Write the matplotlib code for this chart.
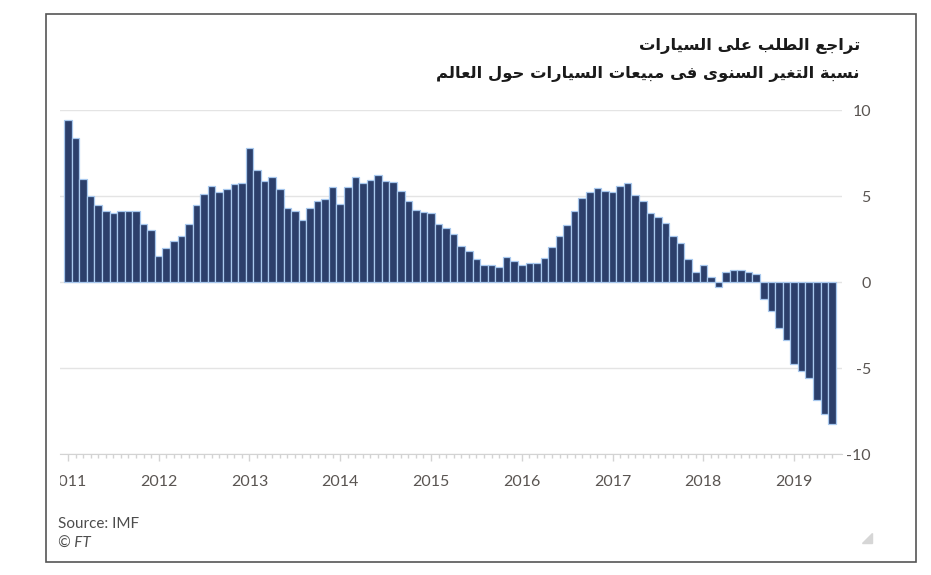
import matplotlib
matplotlib.use("Agg")
import matplotlib.pyplot as plt
from matplotlib.patches import Rectangle, Polygon
from matplotlib.transforms import Bbox

plt.rcParams["font.family"] = ["Lato", "DejaVu Sans"]
plt.rcParams["axes.unicode_minus"] = False

# monthly year-on-year change in global car sales, Jan 2011 - Jun 2019
years = [2011, 2012, 2013, 2014, 2015, 2016, 2017, 2018, 2019]
values = [
    9.4, 8.4, 6.0, 5.0, 4.5, 4.1, 4.0, 4.1, 4.1, 4.1, 3.4, 3.0,      # 2011
    1.5, 1.95, 2.4, 2.7, 3.4, 4.5, 5.1, 5.6, 5.25, 5.4, 5.7, 5.75,   # 2012
    7.8, 6.5, 5.9, 6.1, 5.4, 4.3, 4.15, 3.6, 4.3, 4.7, 4.85, 5.5,   # 2013
    4.55, 5.55, 6.1, 5.75, 5.95, 6.2, 5.9, 5.8, 5.3, 4.7, 4.2, 4.05,  # 2014
    4.0, 3.4, 3.15, 2.8, 2.1, 1.8, 1.35, 1.0, 0.98, 0.85, 1.45, 1.2,  # 2015
    1.0, 1.1, 1.1, 1.4, 2.05, 2.7, 3.3, 4.15, 4.9, 5.25, 5.45, 5.3,  # 2016
    5.25, 5.6, 5.75, 5.05, 4.7, 4.0, 3.8, 3.45, 2.7, 2.25, 1.35, 0.6,  # 2017
    0.97, 0.27, -0.27, 0.6, 0.68, 0.72, 0.6, 0.48, -0.97, -1.7, -2.7, -3.4,  # 2018
    -4.75, -5.15, -5.6, -6.85, -7.65, -8.25,                          # 2019
]
title = "تراجع الطلب على السيارات"
subtitle = "نسبة التغير السنوى فى مبيعات السيارات حول العالم"
source = "Source: IMF"
credit = "© FT"

# --- minimal Arabic shaping (matplotlib does no shaping / bidi) ---
FORMS = {  # isolated, final, initial, medial
    "ا": (0xFE8D, 0xFE8E, None, None),
    "ب": (0xFE8F, 0xFE90, 0xFE91, 0xFE92),
    "ة": (0xFE93, 0xFE94, None, None),
    "ت": (0xFE95, 0xFE96, 0xFE97, 0xFE98),
    "ج": (0xFE9D, 0xFE9E, 0xFE9F, 0xFEA0),
    "ح": (0xFEA1, 0xFEA2, 0xFEA3, 0xFEA4),
    "ر": (0xFEAD, 0xFEAE, None, None),
    "س": (0xFEB1, 0xFEB2, 0xFEB3, 0xFEB4),
    "ط": (0xFEC1, 0xFEC2, 0xFEC3, 0xFEC4),
    "ع": (0xFEC9, 0xFECA, 0xFECB, 0xFECC),
    "غ": (0xFECD, 0xFECE, 0xFECF, 0xFED0),
    "ف": (0xFED1, 0xFED2, 0xFED3, 0xFED4),
    "ل": (0xFEDD, 0xFEDE, 0xFEDF, 0xFEE0),
    "م": (0xFEE1, 0xFEE2, 0xFEE3, 0xFEE4),
    "ن": (0xFEE5, 0xFEE6, 0xFEE7, 0xFEE8),
    "و": (0xFEED, 0xFEEE, None, None),
    "ى": (0xFEEF, 0xFEF0, None, None),
    "ي": (0xFEF1, 0xFEF2, 0xFEF3, 0xFEF4),
}


def shape_ar(text):
    chars = list(text)
    out = []
    i = 0
    while i < len(chars):
        c = chars[i]
        if c not in FORMS:
            out.append(c)
            i += 1
            continue
        prev = chars[i - 1] if i > 0 else None
        joins_prev = prev in FORMS and FORMS[prev][2] is not None
        nxt = chars[i + 1] if i + 1 < len(chars) else None
        if c == "ل" and nxt == "ا":
            out.append(chr(0xFEFC if joins_prev else 0xFEFB))
            i += 2
            continue
        joins_next = FORMS[c][2] is not None and nxt in FORMS
        iso, fin, ini, med = FORMS[c]
        if joins_prev and joins_next:
            out.append(chr(med))
        elif joins_prev:
            out.append(chr(fin))
        elif joins_next:
            out.append(chr(ini))
        else:
            out.append(chr(iso))
        i += 1
    return "".join(out)[::-1]


W, H = 931, 575
fig = plt.figure(figsize=(W / 100, H / 100), dpi=100)
ax = fig.add_axes([60 / W, 1 - 454 / H, 781.7 / W, 344 / H])

x = list(range(len(values)))
ax.bar(x, values, width=1.0, color="#2c3f6b", edgecolor="#a8c8ee",
       linewidth=0.9, zorder=3)

ax.set_xlim(-1.05, len(values) + 0.3)
ax.set_ylim(-10, 10)
ax.set_yticks([-10, -5, 0, 5, 10])
ax.yaxis.tick_right()
ax.tick_params(axis="y", length=0, pad=21, labelsize=11.5, labelcolor="#5a5552")
for lab in ax.get_yticklabels():
    lab.set_horizontalalignment("right")
ax.grid(axis="y", color="#e4e4e4", linewidth=1, zorder=0)

ax.set_xticks([12 * k for k in range(len(years))])
ax.set_xticklabels([str(y) for y in years])
ax.set_xticks(x, minor=True)
ax.tick_params(axis="x", which="major", length=5, width=1, color="#d3d3d3",
               labelsize=11.5, labelcolor="#5a5552", pad=10)
ax.tick_params(axis="x", which="minor", length=3, width=1, color="#d3d3d3")

for s in ["top", "left", "right"]:
    ax.spines[s].set_visible(False)
ax.spines["bottom"].set_color("#d3d3d3")

# first year label is cut by the frame of the original picture
first = ax.get_xticklabels()[0]
first.set_clip_on(True)
first.set_clip_box(Bbox([[59.5, 0], [W, H]]))

fig.text(860 / W, 1 - 50 / H, shape_ar(title), ha="right", va="baseline",
         fontsize=11.8, fontweight="bold", color="#1a1a1a", family="DejaVu Sans")
fig.text(860 / W, 1 - 78 / H, shape_ar(subtitle), ha="right", va="baseline",
         fontsize=11.8, fontweight="bold", color="#1a1a1a", family="DejaVu Sans")

fig.text(58 / W, 1 - 528 / H, source, ha="left", va="baseline",
         fontsize=11, color="#4d4d4d")
fig.text(58 / W, 1 - 548 / H, credit, ha="left", va="baseline",
         fontsize=11, color="#4d4d4d", style="italic")

# outer frame and little corner grip
fig.add_artist(Rectangle((46 / W, 1 - 562 / H), (916 - 46) / W, (562 - 14) / H,
                         transform=fig.transFigure, fill=False,
                         edgecolor="#555555", linewidth=1.2))
fig.add_artist(Polygon([(872 / W, 1 - 533 / H), (872 / W, 1 - 543 / H),
                        (862 / W, 1 - 543 / H)], closed=True,
                       transform=fig.transFigure, color="#d6d6d6"))

fig.savefig("out.png", dpi=100)
